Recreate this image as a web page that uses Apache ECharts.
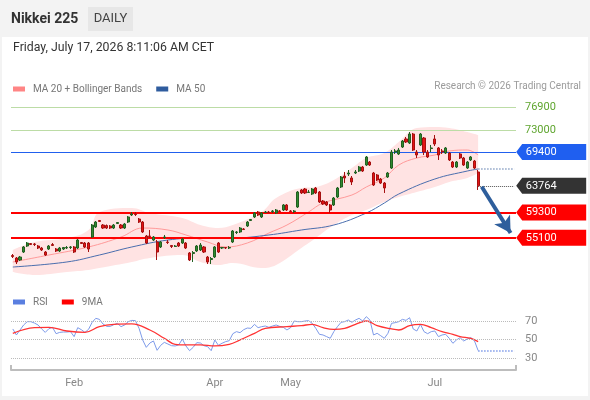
<!DOCTYPE html>
<html>
<head>
<meta charset="utf-8">
<title>Nikkei 225 - Daily</title>
<script src="https://cdn.jsdelivr.net/npm/echarts@6/dist/echarts.min.js"></script>
<style>
html, body { margin: 0; padding: 0; background: #f3f3f3; }
#card { position: absolute; left: 2px; top: 37px; width: 586px; height: 359px; background: #fff; }
#chart { position: absolute; left: 0; top: 0; width: 590px; height: 400px; }
</style>
</head>
<body>
<div id="card"></div>
<div id="chart"></div>
<script>
// trading days (Tokyo), last 10 are empty room on the right
var dates = [
    '2026-01-07','2026-01-08','2026-01-09','2026-01-13','2026-01-14','2026-01-15','2026-01-16','2026-01-19','2026-01-20','2026-01-21',
    '2026-01-22','2026-01-23','2026-01-26','2026-01-27','2026-01-28','2026-01-29','2026-01-30',
    '2026-02-02','2026-02-03','2026-02-04','2026-02-05','2026-02-06','2026-02-09','2026-02-10','2026-02-12','2026-02-13',
    '2026-02-16','2026-02-17','2026-02-18','2026-02-19','2026-02-20','2026-02-24','2026-02-25','2026-02-26','2026-02-27',
    '2026-03-02','2026-03-03','2026-03-04','2026-03-05','2026-03-06','2026-03-09','2026-03-10','2026-03-11','2026-03-12','2026-03-13',
    '2026-03-16','2026-03-17','2026-03-18','2026-03-19','2026-03-23','2026-03-24','2026-03-25','2026-03-26','2026-03-27','2026-03-30','2026-03-31',
    '2026-04-01','2026-04-02','2026-04-03','2026-04-06','2026-04-07','2026-04-08','2026-04-09','2026-04-10','2026-04-13','2026-04-14',
    '2026-04-15','2026-04-16','2026-04-17','2026-04-20','2026-04-21','2026-04-22','2026-04-23','2026-04-24','2026-04-27','2026-04-28','2026-04-30',
    '2026-05-01','2026-05-07','2026-05-08','2026-05-11','2026-05-12','2026-05-13','2026-05-14','2026-05-15','2026-05-18','2026-05-19',
    '2026-05-20','2026-05-21','2026-05-22','2026-05-25','2026-05-26','2026-05-27','2026-05-28','2026-05-29',
    '2026-06-01','2026-06-02','2026-06-03','2026-06-04','2026-06-05','2026-06-08','2026-06-09','2026-06-10','2026-06-11','2026-06-12',
    '2026-06-15','2026-06-16','2026-06-17','2026-06-18','2026-06-19','2026-06-22','2026-06-23','2026-06-24','2026-06-25','2026-06-26','2026-06-29','2026-06-30',
    '2026-07-01','2026-07-02','2026-07-03','2026-07-06','2026-07-07','2026-07-08','2026-07-09','2026-07-10','2026-07-13','2026-07-14',
    '2026-07-15','2026-07-16','2026-07-17',
    '2026-07-21','2026-07-22','2026-07-23','2026-07-24','2026-07-27','2026-07-28','2026-07-29','2026-07-30','2026-07-31','2026-08-03'
];

// month labels on the time axis
var tickDates = ['2026-02-02', '2026-04-01', '2026-05-01', '2026-07-01'];
var tickLabels = ['Feb', 'Apr', 'May', 'Jul'];

// open, close, low, high
var ohlc = [
    [52150,51980,51730,52400],[51730,51070,50730,51900],[51400,51900,51230,52070],[52730,53570,52570,53730],[53730,54230,53570,54400],
    [54150,53980,53900,54230],[54070,53980,53730,54230],[53730,53400,53230,53900],[53400,53070,52900,53570],[52730,52230,52070,52900],
    [53230,53730,53070,53900],[53980,53820,53730,54230],[53230,52900,52730,53400],[52900,53400,52730,53570],[53230,53480,53070,53570],
    [53400,53480,53230,53730],[53480,53570,53230,53730],[53570,52730,52570,53730],[53400,54730,53230,54900],[54320,54150,54070,54400],
    [54230,53570,53400,54400],[54230,53230,52730,54400],[55230,57230,55070,57400],[56900,57730,56730,57900],[57980,57820,57730,58070],
    [57230,56730,56570,57400],[57150,56730,56570,57320],[57070,56730,56570,57230],[56730,57230,56570,57400],[57480,57650,57400,57730],
    [57230,56730,56570,57400],[56730,57400,56570,57570],[57730,58570,57570,58730],[58900,59070,58730,59400],[59070,58980,58730,59400],
    [58230,57730,57570,58400],[57730,56070,55900,57900],[55400,54230,54070,55570],[55400,55320,55070,56400],[54730,55230,54570,55400],
    [54400,52730,51400,54730],[53570,54400,53400,54570],[55150,55230,54900,55570],[54400,54320,54070,54730],[53820,53650,53400,53900],
    [53650,53730,53570,53900],[54230,53730,53570,54400],[54230,54900,54070,55070],[54230,53400,53230,54400],[52570,51400,51230,52730],
    [52480,52650,51070,52900],[52900,53730,52730,53900],[53070,53900,52900,54230],[53570,52730,52570,53730],[51900,51070,50730,52070],
    [51480,51650,50730,51900],[51900,53570,51730,53730],[54230,52730,52570,54400],[53400,53480,53230,53570],[53480,53400,53230,53570],
    [53400,53480,53230,53730],[54400,56230,54230,56400],[55980,56070,55730,56230],[56070,56730,55900,56900],[56570,56480,56400,56730],
    [57070,57730,56900,57900],[57980,58150,57900,58230],[58570,59230,58400,59400],[59400,58900,58730,59570],[58570,59230,58400,59400],
    [59320,59400,59230,59570],[59400,59320,59230,59570],[59480,59570,59230,59730],[59230,59730,59070,59900],[59570,59480,59400,59730],
    [59730,60570,59570,60730],[60570,59730,59570,60730],[59570,59480,59400,59730],[59480,59570,59230,59730],[60230,62730,60070,62900],
    [63070,62570,62400,63230],[63230,62570,62400,63400],[62650,62730,62570,63070],[62400,63230,62230,63400],[63400,62570,62400,63570],
    [62730,61070,60900,62900],[61230,60730,60570,61400],[61070,60570,60400,61230],[60570,59730,59230,60730],[60570,61730,60400,61900],
    [61900,63400,61730,63570],[63570,65230,63400,65400],[65400,65070,64230,66070],[65730,65900,65400,66400],[65070,64400,63900,65400],
    [65900,66070,65730,66400],[66230,66900,66070,67070],[66900,66230,66070,67070],[67230,68570,67070,68730],[67730,67230,67070,67900],
    [65900,63900,63730,66070],[65570,64730,64570,65730],[64900,64230,64070,65070],[64230,63400,62570,64400],[65230,65900,65070,66070],
    [66730,69400,66570,69730],[69400,69570,69070,69900],[69070,69730,68900,70070],[70230,71230,70070,71400],[71570,71070,70900,71900],
    [70900,72400,70730,72730],[72400,69730,69570,72570],[69400,68900,68400,69730],[70570,72400,70400,72570],[71730,69400,68900,71900],
    [69400,68570,68400,69730],[69980,70070,69400,70570],[71570,70730,70400,72230],[70070,68900,68070,70230],[69570,69400,69070,69900],
    [69230,70070,69070,70230],[69230,68070,67900,69400],[67730,66900,66730,67900],[66900,67730,66730,67900],[69070,68400,68230,69230],
    [68400,67230,67070,68570],[66730,67730,66570,67900],[68070,68570,67900,68730],[67900,66730,66570,68070],[66070,63764,63070,66400]
];

// [day index, value]
var ma20 = [[0,51070],[10,52230],[21,53570],[30,55230],[36,56730],[43,56400],[48,55570],[54,54400],[59,53570],[65,54230],
    [71,55900],[76,57230],[82,59400],[86,60900],[94,62230],[98,63570],[103,65070],[107,67230],[112,68400],[117,68900],
    [121,69570],[126,69730],[129,68900]];
var ma50 = [[0,50230],[15,51070],[24,52230],[33,53570],[43,54730],[52,55070],[61,55070],[71,55570],[80,56400],[89,57230],
    [98,59230],[103,60900],[107,62400],[117,64900],[126,66230],[129,66570]];
var bbUpper = [[0,53070],[6,54400],[15,55070],[21,56400],[24,59400],[33,60070],[38,59230],[47,58400],[52,57230],[57,56730],
    [61,57230],[69,59400],[73,61730],[80,63400],[84,63570],[89,64730],[94,66730],[98,68400],[103,69230],[107,71070],
    [112,73400],[117,73570],[121,73400],[126,72730],[129,72230]];
var bbLower = [[0,49400],[6,48900],[15,49400],[21,49730],[24,50070],[33,51070],[38,51730],[47,52230],[52,51070],[57,50570],
    [61,50900],[69,50070],[73,50570],[80,53400],[84,55070],[89,57230],[94,58900],[98,59730],[103,61070],[107,61900],
    [112,62730],[117,63570],[121,64400],[126,65070],[129,65900]];

var rsi = [
    61.4,54.9,60.3,65.7,69.3,69.3,67.8,65.7,61.4,57.7,
    61.7,63.2,56.3,57.7,58.1,58.1,58.5,53.1,62.8,60.6,
    57.7,61.0,68.6,72.9,71.8,66.8,64.2,64.2,66.0,67.5,
    63.9,65.7,69.3,70.7,70.4,62.1,49.5,41.5,46.2,48.4,
    38.3,43.7,46.9,45.1,43.3,43.0,44.1,50.5,43.0,37.9,
    41.5,46.6,46.2,43.3,42.3,37.9,49.5,43.7,45.9,47.7,
    48.7,56.3,58.5,57.4,60.6,62.4,62.1,66.4,62.8,63.9,
    64.6,63.2,64.6,65.7,64.2,63.2,60.3,62.8,70.0,69.3,
    69.3,70.0,70.4,67.5,62.1,55.6,54.9,53.1,51.3,58.5,
    63.9,68.6,69.3,71.1,68.6,71.1,72.9,70.0,74.7,71.1,
    54.9,56.7,54.1,51.3,56.7,67.5,68.2,69.3,71.8,70.7,
    73.6,61.4,59.2,66.4,58.5,56.3,58.5,59.2,53.1,54.9,
    55.6,51.3,45.9,49.5,52.0,48.4,50.5,52.0,48.4,38.0
];
var rsiMa = [[0,56.7],[6,62.8],[10,63.2],[15,59.2],[20,57.7],[24,63.9],[28,66.4],[33,66.8],[38,60.3],[42,51.3],
    [45,44.8],[48,44.1],[52,44.1],[56,43.0],[60,44.8],[63,49.5],[67,56.7],[70,62.1],[76,63.9],[80,65.0],
    [83,66.4],[86,62.8],[89,61.0],[92,62.1],[95,66.4],[98,70.0],[101,65.0],[105,61.4],[107,60.3],[110,65.0],
    [113,66.4],[116,62.8],[119,58.5],[122,55.6],[124,53.1],[127,51.3],[129,47.7]];
var rsiLevels = [70, 50, 30];

// support / resistance levels
var resistGreen = [76900, 73000];
var pivot = 69400;
var supports = [59300, 55100];
var lastClose = 63764;
var target = 55900;

var lastDay = dates[ohlc.length - 1];
var endDay = dates[dates.length - 1];
var font = 'Roboto';

// band width for the stacked fill
var bbWidth = bbUpper.map(function (p, i) {
    return [p[0], p[1] - bbLower[i][1]];
});

function tag(value, color) {
    return {
        coord: [endDay, value],
        value: value,
        itemStyle: { color: color }
    };
}

var levelLines = [];
resistGreen.forEach(function (v) {
    levelLines.push({
        yAxis: v,
        lineStyle: { color: '#bcdca6', width: 1, type: 'solid' },
        label: { show: true, position: 'end', distance: 9, color: '#5fa52f', fontSize: 11, fontFamily: font, formatter: String(v) }
    });
});
levelLines.push({ yAxis: pivot, lineStyle: { color: '#2160ee', width: 1, type: 'solid' }, label: { show: false } });
supports.forEach(function (v) {
    levelLines.push({ yAxis: v, lineStyle: { color: '#ff0000', width: 2, type: 'solid' }, label: { show: false } });
});
// dotted from last close
levelLines.push([
    { coord: [lastDay, lastClose] },
    { coord: [endDay, lastClose], lineStyle: { color: '#555', width: 1, type: 'dotted' } }
]);
// arrow towards target
levelLines.push([
    { coord: [dates[ohlc.length], 63600], symbol: 'none' },
    { coord: [dates[dates.length - 2], target], symbol: 'arrow', symbolSize: [14, 16],
      lineStyle: { color: '#2e5e9c', width: 4, type: 'solid' } }
]);

var option = {
    animation: false,
    textStyle: { fontFamily: font },
    graphic: [
        { type: 'rect', shape: { x: 88, y: 7, width: 45, height: 24 }, style: { fill: '#e7e7e7' } },
        { type: 'text', x: 11, y: 19, style: { text: 'Nikkei 225', font: 'bold 14px Roboto', fill: '#333', verticalAlign: 'middle' } },
        { type: 'text', x: 110.5, y: 19, style: { text: 'DAILY', font: '13px Roboto', fill: '#444', align: 'center', verticalAlign: 'middle' } },
        { type: 'text', x: 13, y: 48, style: { text: 'Friday, July 17, 2026 8:11:06 AM CET', font: '12.3px Roboto', fill: '#333', verticalAlign: 'middle' } },
        { type: 'text', x: 581, y: 86, style: { text: 'Research \u00a9 2026 Trading Central', font: '10px Roboto', fill: '#9b9b9b', align: 'right', verticalAlign: 'middle' } }
    ],
    legend: [{
        data: [
            { name: 'MA 20 + Bollinger Bands', itemStyle: { color: '#ff8585' } },
            { name: 'MA 50', itemStyle: { color: '#2f5c9e' } }
        ],
        left: 8, top: 79, icon: 'rect', itemWidth: 12, itemHeight: 5, itemGap: 14,
        textStyle: { color: '#777', fontSize: 10, fontFamily: font, padding: [0, 0, 0, 3] },
        selectedMode: false
    }, {
        data: [
            { name: 'RSI', itemStyle: { color: '#5a7fe0' } },
            { name: '9MA', itemStyle: { color: '#ff0000' } }
        ],
        left: 8, top: 292, icon: 'rect', itemWidth: 12, itemHeight: 5, itemGap: 14,
        textStyle: { color: '#777', fontSize: 10, fontFamily: font, padding: [0, 0, 0, 3] },
        selectedMode: false
    }],
    grid: [
        { left: 11, width: 505, top: 88.4, height: 198 },
        { left: 11, width: 505, top: 309, height: 61 }
    ],
    xAxis: [{
        type: 'category', gridIndex: 0, data: dates, boundaryGap: true, show: false
    }, {
        type: 'category', gridIndex: 1, data: dates, boundaryGap: true,
        axisLine: { lineStyle: { color: '#bdbdbd', width: 2 } },
        axisTick: { show: true, inside: true, length: 5, lineStyle: { color: '#bdbdbd', width: 2 },
            interval: function (i) { return i === 0; } },
        axisLabel: {
            color: '#888', fontSize: 11, fontFamily: font, margin: 8,
            interval: function (i, v) { return tickDates.indexOf(v) >= 0; },
            formatter: function (v) { var k = tickDates.indexOf(v); return k >= 0 ? tickLabels[k] : ''; }
        }
    }],
    yAxis: [
        { type: 'value', gridIndex: 0, min: 47000, max: 80000, show: false, splitLine: { show: false } },
        { type: 'value', gridIndex: 1, min: 17, max: 83, show: false, splitLine: { show: false } }
    ],
    series: [{
        name: 'bbLower', type: 'line', data: bbLower, stack: 'bb', smooth: 0.4, symbol: 'none', silent: true, z: 1,
        lineStyle: { opacity: 0 }
    }, {
        name: 'bbBand', type: 'line', data: bbWidth, stack: 'bb', smooth: 0.4, symbol: 'none', silent: true, z: 1,
        lineStyle: { opacity: 0 }, areaStyle: { color: '#ffe3e3', opacity: 1 }
    }, {
        name: 'MA 20 + Bollinger Bands', type: 'line', data: ma20, smooth: 0.4, symbol: 'none', z: 2,
        itemStyle: { color: '#ff8585' }, lineStyle: { color: '#ff9a9a', width: 1 }
    }, {
        name: 'MA 50', type: 'line', data: ma50, smooth: 0.4, symbol: 'none', z: 2,
        itemStyle: { color: '#2f5c9e' }, lineStyle: { color: '#4a6eae', width: 1 },
        markLine: {
            silent: true, symbol: ['none', 'none'], label: { show: false },
            data: [[
                { coord: [lastDay, ma50[ma50.length - 1][1]] },
                { coord: [endDay, ma50[ma50.length - 1][1]], lineStyle: { color: '#8da3c6', width: 1.5, type: 'dotted' } }
            ]]
        }
    }, {
        name: 'Nikkei 225', type: 'candlestick', data: ohlc, barWidth: '72%', z: 5,
        itemStyle: { color: '#2f8a2f', color0: '#e51414', borderColor: '#215f21', borderColor0: '#a41010', borderWidth: 1 },
        markLine: {
            silent: true, symbol: ['none', 'none'],
            data: levelLines
        },
        markPoint: {
            silent: true,
            symbol: 'path://M0,8L6,0L70,0L70,16L6,16Z',
            symbolSize: [70, 16],
            symbolOffset: [37, 0],
            label: { show: true, position: 'inside', offset: [-10, 0], color: '#fff', fontSize: 11, fontFamily: font, formatter: '{c}' },
            data: [
                tag(pivot, '#1f5ff0'),
                tag(lastClose, '#333333'),
                tag(supports[0], '#ff0000'),
                tag(supports[1], '#ff0000')
            ]
        }
    }, {
        name: 'RSI', type: 'line', xAxisIndex: 1, yAxisIndex: 1, data: rsi, symbol: 'none',
        itemStyle: { color: '#5a7fe0' }, lineStyle: { color: '#7d9ae9', width: 1 },
        markLine: {
            silent: true, symbol: ['none', 'none'], label: { show: false },
            data: [[
                { coord: [lastDay, rsi[rsi.length - 1]] },
                { coord: [endDay, rsi[rsi.length - 1]], lineStyle: { color: '#7d9ae9', width: 1.5, type: 'dotted' } }
            ]]
        }
    }, {
        name: '9MA', type: 'line', xAxisIndex: 1, yAxisIndex: 1, data: rsiMa, smooth: 0.4, symbol: 'none',
        itemStyle: { color: '#ff0000' }, lineStyle: { color: '#ff3333', width: 1.3 },
        markLine: {
            silent: true, symbol: ['none', 'none'],
            lineStyle: { color: '#bbbbbb', width: 1, type: 'dotted' },
            label: { show: true, position: 'end', distance: 9, color: '#888', fontSize: 11, fontFamily: font },
            data: rsiLevels.map(function (v) { return { yAxis: v, label: { formatter: String(v) } }; })
        }
    }]
};

var chart = echarts.init(document.getElementById('chart'));
chart.setOption(option);
</script>
</body>
</html>
